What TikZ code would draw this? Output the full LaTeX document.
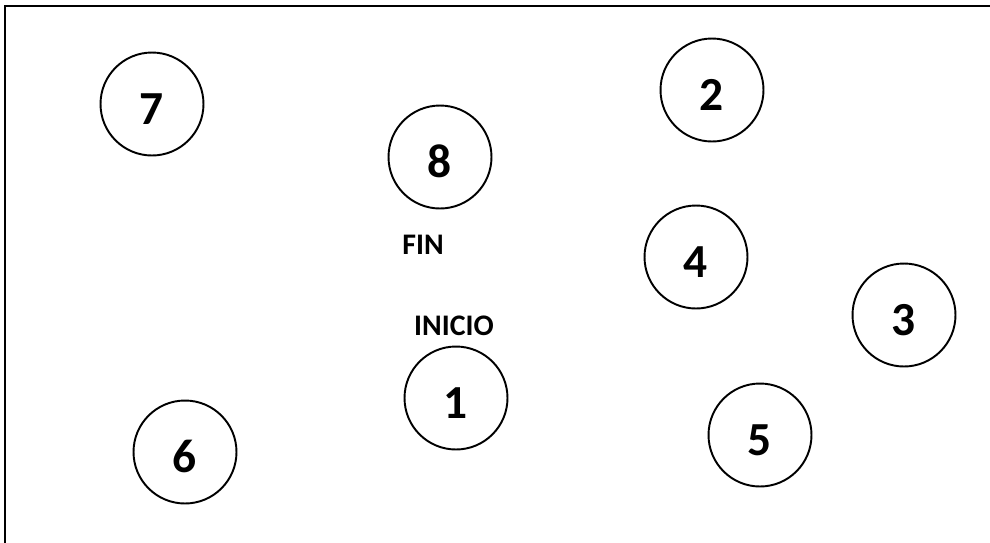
\documentclass[tikz,border=0pt]{standalone}
\usepackage{fontspec}
\setmainfont{Carlito}
\tikzset{
    stop/.style={circle, draw, line width=1.1pt, minimum size=2.06cm, inner sep=0pt, text height=0.8cm, text depth=0pt, font=\bfseries\fontsize{27}{30}\selectfont},
    tag/.style={font=\bfseries\fontsize{17}{20}\selectfont}
}
\begin{document}
\begin{tikzpicture}[x=0.02cm, y=-0.02cm]
    \useasboundingbox (0,0) rectangle (990,542);
    % Frame
    \draw[line width=1.6pt] (5,545) -- (5,6) -- (995,6);

    % Stops
    \node[stop] (n7) at (152,104) {7};
    \node[stop] (n2) at (712,90) {2};
    \node[stop] (n8) at (440,157) {8};
    \node[stop] (n4) at (696,257) {4};
    \node[stop] (n3) at (904,315) {3};
    \node[stop] (n1) at (456,398) {1};
    \node[stop] (n5) at (760,435) {5};
    \node[stop] (n6) at (185,452) {6};

    % Labels
    \node[tag] (fin) at (423,245) {FIN};
    \node[tag] (inicio) at (454,326) {INICIO};
\end{tikzpicture}
\end{document}
